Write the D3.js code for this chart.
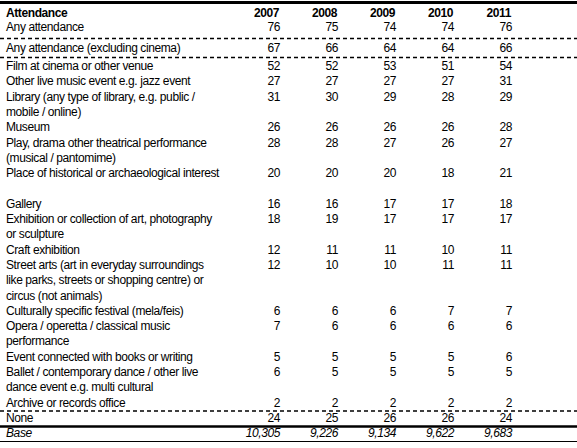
<!DOCTYPE html>
<html><head><meta charset="utf-8">
<script src="https://cdn.jsdelivr.net/npm/d3@7"></script>
<style>body{margin:0;background:#fff}svg{display:block}text{font-family:"Liberation Sans",Arial,sans-serif;font-size:12px;fill:#000;letter-spacing:-0.4px}</style>
</head><body><svg id="c" width="577" height="448"></svg>
<script>
const years=["2007","2008","2009","2010","2011"];
const labels=[
 ["Film at cinema or other venue"],
 ["Other live music event e.g. jazz event"],
 ["Library (any type of library, e.g. public /","mobile / online)"],
 ["Museum"],
 ["Play, drama other theatrical performance","(musical / pantomime)"],
 ["Place of historical or archaeological interest",""],
 ["Gallery"],
 ["Exhibition or collection of art, photography","or sculpture"],
 ["Craft exhibition"],
 ["Street arts (art in everyday surroundings","like parks, streets or shopping centre)  or","circus (not animals)"],
 ["Culturally specific festival (mela/feis)"],
 ["Opera / operetta / classical music","performance"],
 ["Event connected with books or writing"],
 ["Ballet / contemporary dance / other live","dance event e.g. multi cultural"],
 ["Archive or records office"]
];
const values=[
 [52,52,53,51,54],[27,27,27,27,31],[31,30,29,28,29],[26,26,26,26,28],[28,28,27,26,27],
 [20,20,20,18,21],[16,16,17,17,18],[18,19,17,17,17],[12,11,11,10,11],[12,10,10,11,11],
 [6,6,6,7,7],[7,6,6,6,6],[5,5,5,5,6],[6,5,5,5,5],[2,2,2,2,2]
];
const anyAtt=[76,75,74,74,76];
const anyExcl=[67,66,64,64,66];
const none=[24,25,26,26,24];
const base=["10,305","9,226","9,134","9,622","9,683"];

const svg=d3.select("#c");
const x=d3.scalePoint().domain(years).range([280,512]);
const lh=15.3, y0=70;
function rowNums(vals,y,italic){
  svg.append("g").selectAll("text").data(vals).join("text")
   .attr("x",(d,i)=>x(years[i])).attr("y",y).attr("text-anchor","end")
   .style("font-style",italic?"italic":null).text(d=>d);
}
function label(t,y,italic,bold){
  svg.append("text").attr("x",6).attr("y",y).text(t)
   .style("font-style",italic?"italic":null).style("font-weight",bold?"bold":null);
}
function hline(y,w,dash){
  svg.append("line").attr("x1",0).attr("x2",577).attr("y1",y).attr("y2",y)
   .attr("stroke","#000").attr("stroke-width",w).attr("stroke-dasharray",dash||null);
}
hline(2.5,3);
label("Attendance",17,false,true);
svg.append("g").selectAll("text").data(years).join("text")
 .attr("x",d=>x(d)-1).attr("y",17).attr("text-anchor","end").style("font-weight","bold").text(d=>d);
label("Any attendance",31); rowNums(anyAtt,31);
hline(38.5,1.5,"4,3");
label("Any attendance (excluding cinema)",52); rowNums(anyExcl,52);
hline(57.5,1.5,"4,3");
let line=0;
labels.forEach((ls,i)=>{
  const y=y0+line*lh;
  ls.forEach((t,j)=>label(t,y+j*lh));
  rowNums(values[i],y);
  line+=ls.length;
});
hline(411,1.5,"4,3");
label("None",422); rowNums(none,422);
hline(426.5,2.5);
label("Base",437,true); rowNums(base,437,true);
hline(441.5,1);
</script></body></html>
